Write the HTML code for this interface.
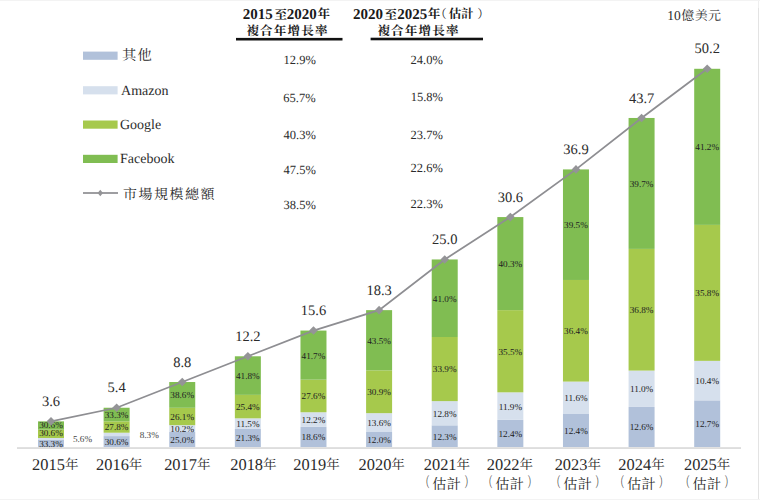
<!DOCTYPE html>
<html><head><meta charset="utf-8"><title>Chart</title>
<style>
html,body{margin:0;padding:0;background:#fff;width:760px;height:500px;overflow:hidden}
svg{display:block;text-rendering:geometricPrecision}
text{font-family:'Liberation Serif','Noto Serif CJK TC',serif}
</style></head><body>
<svg width="760" height="500" viewBox="0 0 760 500">
<rect x="38.00" y="439.53" width="26.0" height="7.47" fill="#b1c1da"/>
<rect x="38.00" y="438.00" width="26.0" height="1.53" fill="#d6e0ed"/>
<rect x="38.00" y="429.67" width="26.0" height="8.33" fill="#a6c94c"/>
<rect x="38.00" y="421.36" width="26.0" height="8.31" fill="#80bd52"/>
<rect x="103.62" y="436.10" width="26.0" height="10.90" fill="#b1c1da"/>
<rect x="103.62" y="432.71" width="26.0" height="3.39" fill="#d6e0ed"/>
<rect x="103.62" y="421.35" width="26.0" height="11.36" fill="#a6c94c"/>
<rect x="103.62" y="407.74" width="26.0" height="13.61" fill="#80bd52"/>
<rect x="169.24" y="431.95" width="26.0" height="15.05" fill="#b1c1da"/>
<rect x="169.24" y="425.16" width="26.0" height="6.79" fill="#d6e0ed"/>
<rect x="169.24" y="407.79" width="26.0" height="17.38" fill="#a6c94c"/>
<rect x="169.24" y="382.02" width="26.0" height="25.77" fill="#80bd52"/>
<rect x="234.86" y="428.94" width="26.0" height="18.06" fill="#b1c1da"/>
<rect x="234.86" y="418.32" width="26.0" height="10.62" fill="#d6e0ed"/>
<rect x="234.86" y="394.88" width="26.0" height="23.45" fill="#a6c94c"/>
<rect x="234.86" y="356.29" width="26.0" height="38.58" fill="#80bd52"/>
<rect x="300.48" y="426.65" width="26.0" height="20.35" fill="#b1c1da"/>
<rect x="300.48" y="412.25" width="26.0" height="14.40" fill="#d6e0ed"/>
<rect x="300.48" y="379.67" width="26.0" height="32.58" fill="#a6c94c"/>
<rect x="300.48" y="330.57" width="26.0" height="49.10" fill="#80bd52"/>
<rect x="366.10" y="431.99" width="26.0" height="15.01" fill="#b1c1da"/>
<rect x="366.10" y="413.15" width="26.0" height="18.83" fill="#d6e0ed"/>
<rect x="366.10" y="370.37" width="26.0" height="42.78" fill="#a6c94c"/>
<rect x="366.10" y="310.14" width="26.0" height="60.23" fill="#80bd52"/>
<rect x="431.72" y="425.33" width="26.0" height="21.67" fill="#b1c1da"/>
<rect x="431.72" y="401.12" width="26.0" height="24.21" fill="#d6e0ed"/>
<rect x="431.72" y="337.00" width="26.0" height="64.12" fill="#a6c94c"/>
<rect x="431.72" y="259.45" width="26.0" height="77.55" fill="#80bd52"/>
<rect x="497.34" y="419.89" width="26.0" height="27.11" fill="#b1c1da"/>
<rect x="497.34" y="392.34" width="26.0" height="27.55" fill="#d6e0ed"/>
<rect x="497.34" y="310.15" width="26.0" height="82.19" fill="#a6c94c"/>
<rect x="497.34" y="217.08" width="26.0" height="93.07" fill="#80bd52"/>
<rect x="562.96" y="413.98" width="26.0" height="33.02" fill="#b1c1da"/>
<rect x="562.96" y="381.60" width="26.0" height="32.39" fill="#d6e0ed"/>
<rect x="562.96" y="279.97" width="26.0" height="101.62" fill="#a6c94c"/>
<rect x="562.96" y="169.41" width="26.0" height="110.56" fill="#80bd52"/>
<rect x="628.58" y="406.94" width="26.0" height="40.06" fill="#b1c1da"/>
<rect x="628.58" y="370.57" width="26.0" height="36.37" fill="#d6e0ed"/>
<rect x="628.58" y="248.90" width="26.0" height="121.67" fill="#a6c94c"/>
<rect x="628.58" y="117.97" width="26.0" height="130.93" fill="#80bd52"/>
<rect x="694.20" y="400.36" width="26.0" height="46.64" fill="#b1c1da"/>
<rect x="694.20" y="360.86" width="26.0" height="39.50" fill="#d6e0ed"/>
<rect x="694.20" y="224.89" width="26.0" height="135.97" fill="#a6c94c"/>
<rect x="694.20" y="68.79" width="26.0" height="156.10" fill="#80bd52"/>
<rect x="17" y="447.3" width="724" height="1.5" fill="#d5d5d5"/>
<text x="51.00" y="428.00" font-size="9.2" text-anchor="middle" fill="#222">30.6%</text>
<text x="51.00" y="436.00" font-size="9.2" text-anchor="middle" fill="#222">30.6%</text>
<text x="51.00" y="446.70" font-size="9.2" text-anchor="middle" fill="#222">33.3%</text>
<text x="82.50" y="441.90" font-size="9.2" text-anchor="middle" fill="#444">5.6%</text>
<text x="116.62" y="417.50" font-size="9.2" text-anchor="middle" fill="#222">33.3%</text>
<text x="116.62" y="430.00" font-size="9.2" text-anchor="middle" fill="#222">27.8%</text>
<text x="116.62" y="444.50" font-size="9.2" text-anchor="middle" fill="#222">30.6%</text>
<text x="149.30" y="438.00" font-size="9.2" text-anchor="middle" fill="#444">8.3%</text>
<text x="182.24" y="442.88" font-size="9.2" text-anchor="middle" fill="#222">25.0%</text>
<text x="182.24" y="431.96" font-size="9.2" text-anchor="middle" fill="#222">10.2%</text>
<text x="182.24" y="419.87" font-size="9.2" text-anchor="middle" fill="#222">26.1%</text>
<text x="182.24" y="398.30" font-size="9.2" text-anchor="middle" fill="#222">38.6%</text>
<text x="247.86" y="441.37" font-size="9.2" text-anchor="middle" fill="#222">21.3%</text>
<text x="247.86" y="427.03" font-size="9.2" text-anchor="middle" fill="#222">11.5%</text>
<text x="247.86" y="410.00" font-size="9.2" text-anchor="middle" fill="#222">25.4%</text>
<text x="247.86" y="378.99" font-size="9.2" text-anchor="middle" fill="#222">41.8%</text>
<text x="313.48" y="440.22" font-size="9.2" text-anchor="middle" fill="#222">18.6%</text>
<text x="313.48" y="422.85" font-size="9.2" text-anchor="middle" fill="#222">12.2%</text>
<text x="313.48" y="399.36" font-size="9.2" text-anchor="middle" fill="#222">27.6%</text>
<text x="313.48" y="358.52" font-size="9.2" text-anchor="middle" fill="#222">41.7%</text>
<text x="379.10" y="442.89" font-size="9.2" text-anchor="middle" fill="#222">12.0%</text>
<text x="379.10" y="425.97" font-size="9.2" text-anchor="middle" fill="#222">13.6%</text>
<text x="379.10" y="395.16" font-size="9.2" text-anchor="middle" fill="#222">30.9%</text>
<text x="379.10" y="343.66" font-size="9.2" text-anchor="middle" fill="#222">43.5%</text>
<text x="444.72" y="439.57" font-size="9.2" text-anchor="middle" fill="#222">12.3%</text>
<text x="444.72" y="416.63" font-size="9.2" text-anchor="middle" fill="#222">12.8%</text>
<text x="444.72" y="372.46" font-size="9.2" text-anchor="middle" fill="#222">33.9%</text>
<text x="444.72" y="301.63" font-size="9.2" text-anchor="middle" fill="#222">41.0%</text>
<text x="510.34" y="436.85" font-size="9.2" text-anchor="middle" fill="#222">12.4%</text>
<text x="510.34" y="409.52" font-size="9.2" text-anchor="middle" fill="#222">11.9%</text>
<text x="510.34" y="354.65" font-size="9.2" text-anchor="middle" fill="#222">35.5%</text>
<text x="510.34" y="267.02" font-size="9.2" text-anchor="middle" fill="#222">40.3%</text>
<text x="575.96" y="433.89" font-size="9.2" text-anchor="middle" fill="#222">12.4%</text>
<text x="575.96" y="401.19" font-size="9.2" text-anchor="middle" fill="#222">11.6%</text>
<text x="575.96" y="334.18" font-size="9.2" text-anchor="middle" fill="#222">36.4%</text>
<text x="575.96" y="228.09" font-size="9.2" text-anchor="middle" fill="#222">39.5%</text>
<text x="641.58" y="430.37" font-size="9.2" text-anchor="middle" fill="#222">12.6%</text>
<text x="641.58" y="392.16" font-size="9.2" text-anchor="middle" fill="#222">11.0%</text>
<text x="641.58" y="313.13" font-size="9.2" text-anchor="middle" fill="#222">36.8%</text>
<text x="641.58" y="186.83" font-size="9.2" text-anchor="middle" fill="#222">39.7%</text>
<text x="707.20" y="427.08" font-size="9.2" text-anchor="middle" fill="#222">12.7%</text>
<text x="707.20" y="384.01" font-size="9.2" text-anchor="middle" fill="#222">10.4%</text>
<text x="707.20" y="296.28" font-size="9.2" text-anchor="middle" fill="#222">35.8%</text>
<text x="707.20" y="150.24" font-size="9.2" text-anchor="middle" fill="#222">41.2%</text>
<polyline points="51.00,421.36 116.62,407.74 182.24,382.02 247.86,356.29 313.48,330.57 379.10,310.14 444.72,259.45 510.34,217.08 575.96,169.41 641.58,117.97 707.20,68.79" fill="none" stroke="#8e8e92" stroke-width="1.75"/>
<polygon points="51.00,417.06 55.30,421.36 51.00,425.66 46.70,421.36" fill="#949497"/>
<polygon points="116.62,403.44 120.92,407.74 116.62,412.04 112.32,407.74" fill="#949497"/>
<polygon points="182.24,377.72 186.54,382.02 182.24,386.32 177.94,382.02" fill="#949497"/>
<polygon points="247.86,351.99 252.16,356.29 247.86,360.59 243.56,356.29" fill="#949497"/>
<polygon points="313.48,326.27 317.78,330.57 313.48,334.87 309.18,330.57" fill="#949497"/>
<polygon points="379.10,305.84 383.40,310.14 379.10,314.44 374.80,310.14" fill="#949497"/>
<polygon points="444.72,255.15 449.02,259.45 444.72,263.75 440.42,259.45" fill="#949497"/>
<polygon points="510.34,212.78 514.64,217.08 510.34,221.38 506.04,217.08" fill="#949497"/>
<polygon points="575.96,165.11 580.26,169.41 575.96,173.71 571.66,169.41" fill="#949497"/>
<polygon points="641.58,113.67 645.88,117.97 641.58,122.27 637.28,117.97" fill="#949497"/>
<polygon points="707.20,64.49 711.50,68.79 707.20,73.09 702.90,68.79" fill="#949497"/>
<text x="51.00" y="406.06" font-size="14.5" text-anchor="middle" fill="#2b2b2b">3.6</text>
<text x="116.62" y="392.44" font-size="14.5" text-anchor="middle" fill="#2b2b2b">5.4</text>
<text x="182.24" y="366.72" font-size="14.5" text-anchor="middle" fill="#2b2b2b">8.8</text>
<text x="247.86" y="340.99" font-size="14.5" text-anchor="middle" fill="#2b2b2b">12.2</text>
<text x="313.48" y="315.27" font-size="14.5" text-anchor="middle" fill="#2b2b2b">15.6</text>
<text x="379.10" y="294.84" font-size="14.5" text-anchor="middle" fill="#2b2b2b">18.3</text>
<text x="444.72" y="244.15" font-size="14.5" text-anchor="middle" fill="#2b2b2b">25.0</text>
<text x="510.34" y="201.78" font-size="14.5" text-anchor="middle" fill="#2b2b2b">30.6</text>
<text x="575.96" y="154.11" font-size="14.5" text-anchor="middle" fill="#2b2b2b">36.9</text>
<text x="641.58" y="102.67" font-size="14.5" text-anchor="middle" fill="#2b2b2b">43.7</text>
<text x="707.20" y="53.49" font-size="14.5" text-anchor="middle" fill="#2b2b2b">50.2</text>
<text x="55.25" y="469.8" font-size="16.4" text-anchor="middle" fill="#2b2b2b">2015<tspan font-size="13.5" dy="-1.2">年</tspan></text>
<text x="119.20" y="469.8" font-size="16.4" text-anchor="middle" fill="#2b2b2b">2016<tspan font-size="13.5" dy="-1.2">年</tspan></text>
<text x="187.30" y="469.8" font-size="16.4" text-anchor="middle" fill="#2b2b2b">2017<tspan font-size="13.5" dy="-1.2">年</tspan></text>
<text x="253.40" y="469.8" font-size="16.4" text-anchor="middle" fill="#2b2b2b">2018<tspan font-size="13.5" dy="-1.2">年</tspan></text>
<text x="316.50" y="469.8" font-size="16.4" text-anchor="middle" fill="#2b2b2b">2019<tspan font-size="13.5" dy="-1.2">年</tspan></text>
<text x="381.70" y="469.8" font-size="16.4" text-anchor="middle" fill="#2b2b2b">2020<tspan font-size="13.5" dy="-1.2">年</tspan></text>
<text x="446.90" y="469.8" font-size="16.4" text-anchor="middle" fill="#2b2b2b">2021<tspan font-size="13.5" dy="-1.2">年</tspan></text>
<text x="509.90" y="469.8" font-size="16.4" text-anchor="middle" fill="#2b2b2b">2022<tspan font-size="13.5" dy="-1.2">年</tspan></text>
<text x="577.80" y="469.8" font-size="16.4" text-anchor="middle" fill="#2b2b2b">2023<tspan font-size="13.5" dy="-1.2">年</tspan></text>
<text x="641.50" y="469.8" font-size="16.4" text-anchor="middle" fill="#2b2b2b">2024<tspan font-size="13.5" dy="-1.2">年</tspan></text>
<text x="707.10" y="469.8" font-size="16.4" text-anchor="middle" fill="#2b2b2b">2025<tspan font-size="13.5" dy="-1.2">年</tspan></text>
<rect x="83" y="51.6" width="34.6" height="8.2" fill="#b1c1da"/>
<rect x="83" y="86.2" width="34.6" height="8.2" fill="#d6e0ed"/>
<rect x="83" y="120.5" width="34.6" height="8.2" fill="#a6c94c"/>
<rect x="83" y="154.8" width="34.6" height="8.2" fill="#80bd52"/>
<rect x="83" y="192.15" width="35" height="1.7" fill="#8e8e92"/>
<polygon points="100.3,189.8 103.0,193 100.3,196.2 97.6,193" fill="#949497"/>
<rect x="236" y="37.9" width="106.5" height="2.6" fill="#111"/>
<rect x="370.6" y="37.7" width="112.4" height="2.6" fill="#111"/>
<rect x="0" y="0" width="760" height="1" fill="#f3f3f3"/>
<rect x="758" y="8" width="1" height="492" fill="#e3e3e3"/>
<rect x="758" y="1" width="1" height="7" fill="#efefef"/>
<rect x="0" y="499" width="760" height="1" fill="#f3f3f3"/>
<text transform="translate(421.10,487.35) scale(0.6,1)" font-size="14.2" style="font-family:'Noto Serif CJK TC',serif" fill="#2b2b2b">（</text>
<text x="432.35" y="488.50" font-size="14.2" style="font-family:'Noto Serif CJK TC',serif" fill="#2b2b2b">估</text>
<text x="446.80" y="488.50" font-size="14.2" style="font-family:'Noto Serif CJK TC',serif" fill="#2b2b2b">計</text>
<text transform="translate(464.40,487.35) scale(0.6,1)" font-size="14.2" style="font-family:'Noto Serif CJK TC',serif" fill="#2b2b2b">）</text>
<text transform="translate(484.10,487.35) scale(0.6,1)" font-size="14.2" style="font-family:'Noto Serif CJK TC',serif" fill="#2b2b2b">（</text>
<text x="495.35" y="488.50" font-size="14.2" style="font-family:'Noto Serif CJK TC',serif" fill="#2b2b2b">估</text>
<text x="509.80" y="488.50" font-size="14.2" style="font-family:'Noto Serif CJK TC',serif" fill="#2b2b2b">計</text>
<text transform="translate(527.40,487.35) scale(0.6,1)" font-size="14.2" style="font-family:'Noto Serif CJK TC',serif" fill="#2b2b2b">）</text>
<text transform="translate(552.00,487.35) scale(0.6,1)" font-size="14.2" style="font-family:'Noto Serif CJK TC',serif" fill="#2b2b2b">（</text>
<text x="563.25" y="488.50" font-size="14.2" style="font-family:'Noto Serif CJK TC',serif" fill="#2b2b2b">估</text>
<text x="577.70" y="488.50" font-size="14.2" style="font-family:'Noto Serif CJK TC',serif" fill="#2b2b2b">計</text>
<text transform="translate(595.30,487.35) scale(0.6,1)" font-size="14.2" style="font-family:'Noto Serif CJK TC',serif" fill="#2b2b2b">）</text>
<text transform="translate(615.70,487.35) scale(0.6,1)" font-size="14.2" style="font-family:'Noto Serif CJK TC',serif" fill="#2b2b2b">（</text>
<text x="626.95" y="488.50" font-size="14.2" style="font-family:'Noto Serif CJK TC',serif" fill="#2b2b2b">估</text>
<text x="641.40" y="488.50" font-size="14.2" style="font-family:'Noto Serif CJK TC',serif" fill="#2b2b2b">計</text>
<text transform="translate(659.00,487.35) scale(0.6,1)" font-size="14.2" style="font-family:'Noto Serif CJK TC',serif" fill="#2b2b2b">）</text>
<text transform="translate(681.30,487.35) scale(0.6,1)" font-size="14.2" style="font-family:'Noto Serif CJK TC',serif" fill="#2b2b2b">（</text>
<text x="692.55" y="488.50" font-size="14.2" style="font-family:'Noto Serif CJK TC',serif" fill="#2b2b2b">估</text>
<text x="707.00" y="488.50" font-size="14.2" style="font-family:'Noto Serif CJK TC',serif" fill="#2b2b2b">計</text>
<text transform="translate(724.60,487.35) scale(0.6,1)" font-size="14.2" style="font-family:'Noto Serif CJK TC',serif" fill="#2b2b2b">）</text>
<text x="121.95" y="59.90" font-size="14.3" letter-spacing="1.3" style="font-family:'Noto Serif CJK TC',serif" fill="#2b2b2b">其他</text>
<text x="121.05" y="94.70" font-size="14" style="font-family:'Liberation Serif','Noto Serif CJK TC',serif" fill="#2b2b2b">Amazon</text>
<text x="120.00" y="129.00" font-size="14" style="font-family:'Liberation Serif','Noto Serif CJK TC',serif" fill="#2b2b2b">Google</text>
<text x="120.00" y="163.00" font-size="14" style="font-family:'Liberation Serif','Noto Serif CJK TC',serif" fill="#2b2b2b">Facebook</text>
<text x="122.95" y="198.50" font-size="14" letter-spacing="1.5" style="font-family:'Noto Serif CJK TC',serif" fill="#2b2b2b">市場規模總額</text>
<text x="242.85" y="19.00" font-size="15" font-weight="bold" style="font-family:'Liberation Serif','Noto Serif CJK TC',serif" fill="#1a1a1a">2015</text>
<text x="274.40" y="18.50" font-size="12.5" font-weight="bold" style="font-family:'Noto Serif CJK TC',serif" fill="#1a1a1a">至</text>
<text x="286.85" y="19.00" font-size="15" font-weight="bold" style="font-family:'Liberation Serif','Noto Serif CJK TC',serif" fill="#1a1a1a">2020</text>
<text x="317.50" y="18.40" font-size="12.5" font-weight="bold" style="font-family:'Noto Serif CJK TC',serif" fill="#1a1a1a">年</text>
<text x="352.95" y="19.00" font-size="15" font-weight="bold" style="font-family:'Liberation Serif','Noto Serif CJK TC',serif" fill="#1a1a1a">2020</text>
<text x="384.40" y="18.50" font-size="12.5" font-weight="bold" style="font-family:'Noto Serif CJK TC',serif" fill="#1a1a1a">至</text>
<text x="397.25" y="19.00" font-size="15" font-weight="bold" style="font-family:'Liberation Serif','Noto Serif CJK TC',serif" fill="#1a1a1a">2025</text>
<text x="427.70" y="18.40" font-size="12.5" font-weight="bold" style="font-family:'Noto Serif CJK TC',serif" fill="#1a1a1a">年</text>
<text x="448.65" y="18.30" font-size="12.5" font-weight="bold" style="font-family:'Noto Serif CJK TC',serif" fill="#1a1a1a">估</text>
<text x="460.90" y="18.30" font-size="12.5" font-weight="bold" style="font-family:'Noto Serif CJK TC',serif" fill="#1a1a1a">計</text>
<text x="434.65" y="18.00" font-size="12" style="font-family:'Noto Serif CJK TC',serif" fill="#1a1a1a">（</text>
<text x="477.25" y="18.00" font-size="12" style="font-family:'Noto Serif CJK TC',serif" fill="#1a1a1a">）</text>
<text x="246.40" y="35.20" font-size="12.5" font-weight="bold" letter-spacing="1.2" style="font-family:'Noto Serif CJK TC',serif" fill="#1a1a1a">複合年增長率</text>
<text x="377.40" y="35.20" font-size="12.5" font-weight="bold" letter-spacing="1.2" style="font-family:'Noto Serif CJK TC',serif" fill="#1a1a1a">複合年增長率</text>
<text x="283.50" y="64.25" font-size="12.5" style="font-family:'Liberation Serif','Noto Serif CJK TC',serif" fill="#2b2b2b">12.9%</text>
<text x="283.30" y="101.65" font-size="12.5" style="font-family:'Liberation Serif','Noto Serif CJK TC',serif" fill="#2b2b2b">65.7%</text>
<text x="283.55" y="139.35" font-size="12.5" style="font-family:'Liberation Serif','Noto Serif CJK TC',serif" fill="#2b2b2b">40.3%</text>
<text x="283.55" y="173.65" font-size="12.5" style="font-family:'Liberation Serif','Noto Serif CJK TC',serif" fill="#2b2b2b">47.5%</text>
<text x="283.50" y="208.65" font-size="12.5" style="font-family:'Liberation Serif','Noto Serif CJK TC',serif" fill="#2b2b2b">38.5%</text>
<text x="410.60" y="64.15" font-size="12.5" style="font-family:'Liberation Serif','Noto Serif CJK TC',serif" fill="#2b2b2b">24.0%</text>
<text x="410.70" y="100.75" font-size="12.5" style="font-family:'Liberation Serif','Noto Serif CJK TC',serif" fill="#2b2b2b">15.8%</text>
<text x="410.50" y="138.85" font-size="12.5" style="font-family:'Liberation Serif','Noto Serif CJK TC',serif" fill="#2b2b2b">23.7%</text>
<text x="410.50" y="172.45" font-size="12.5" style="font-family:'Liberation Serif','Noto Serif CJK TC',serif" fill="#2b2b2b">22.6%</text>
<text x="410.50" y="208.35" font-size="12.5" style="font-family:'Liberation Serif','Noto Serif CJK TC',serif" fill="#2b2b2b">22.3%</text>
<text x="667.35" y="20.00" font-size="13.5" style="font-family:'Liberation Serif','Noto Serif CJK TC',serif" fill="#2b2b2b">10</text>
<text x="681.30" y="19.60" font-size="13" letter-spacing="0.4" style="font-family:'Noto Serif CJK TC',serif" fill="#2b2b2b">億美元</text>
</svg>
</body></html>
